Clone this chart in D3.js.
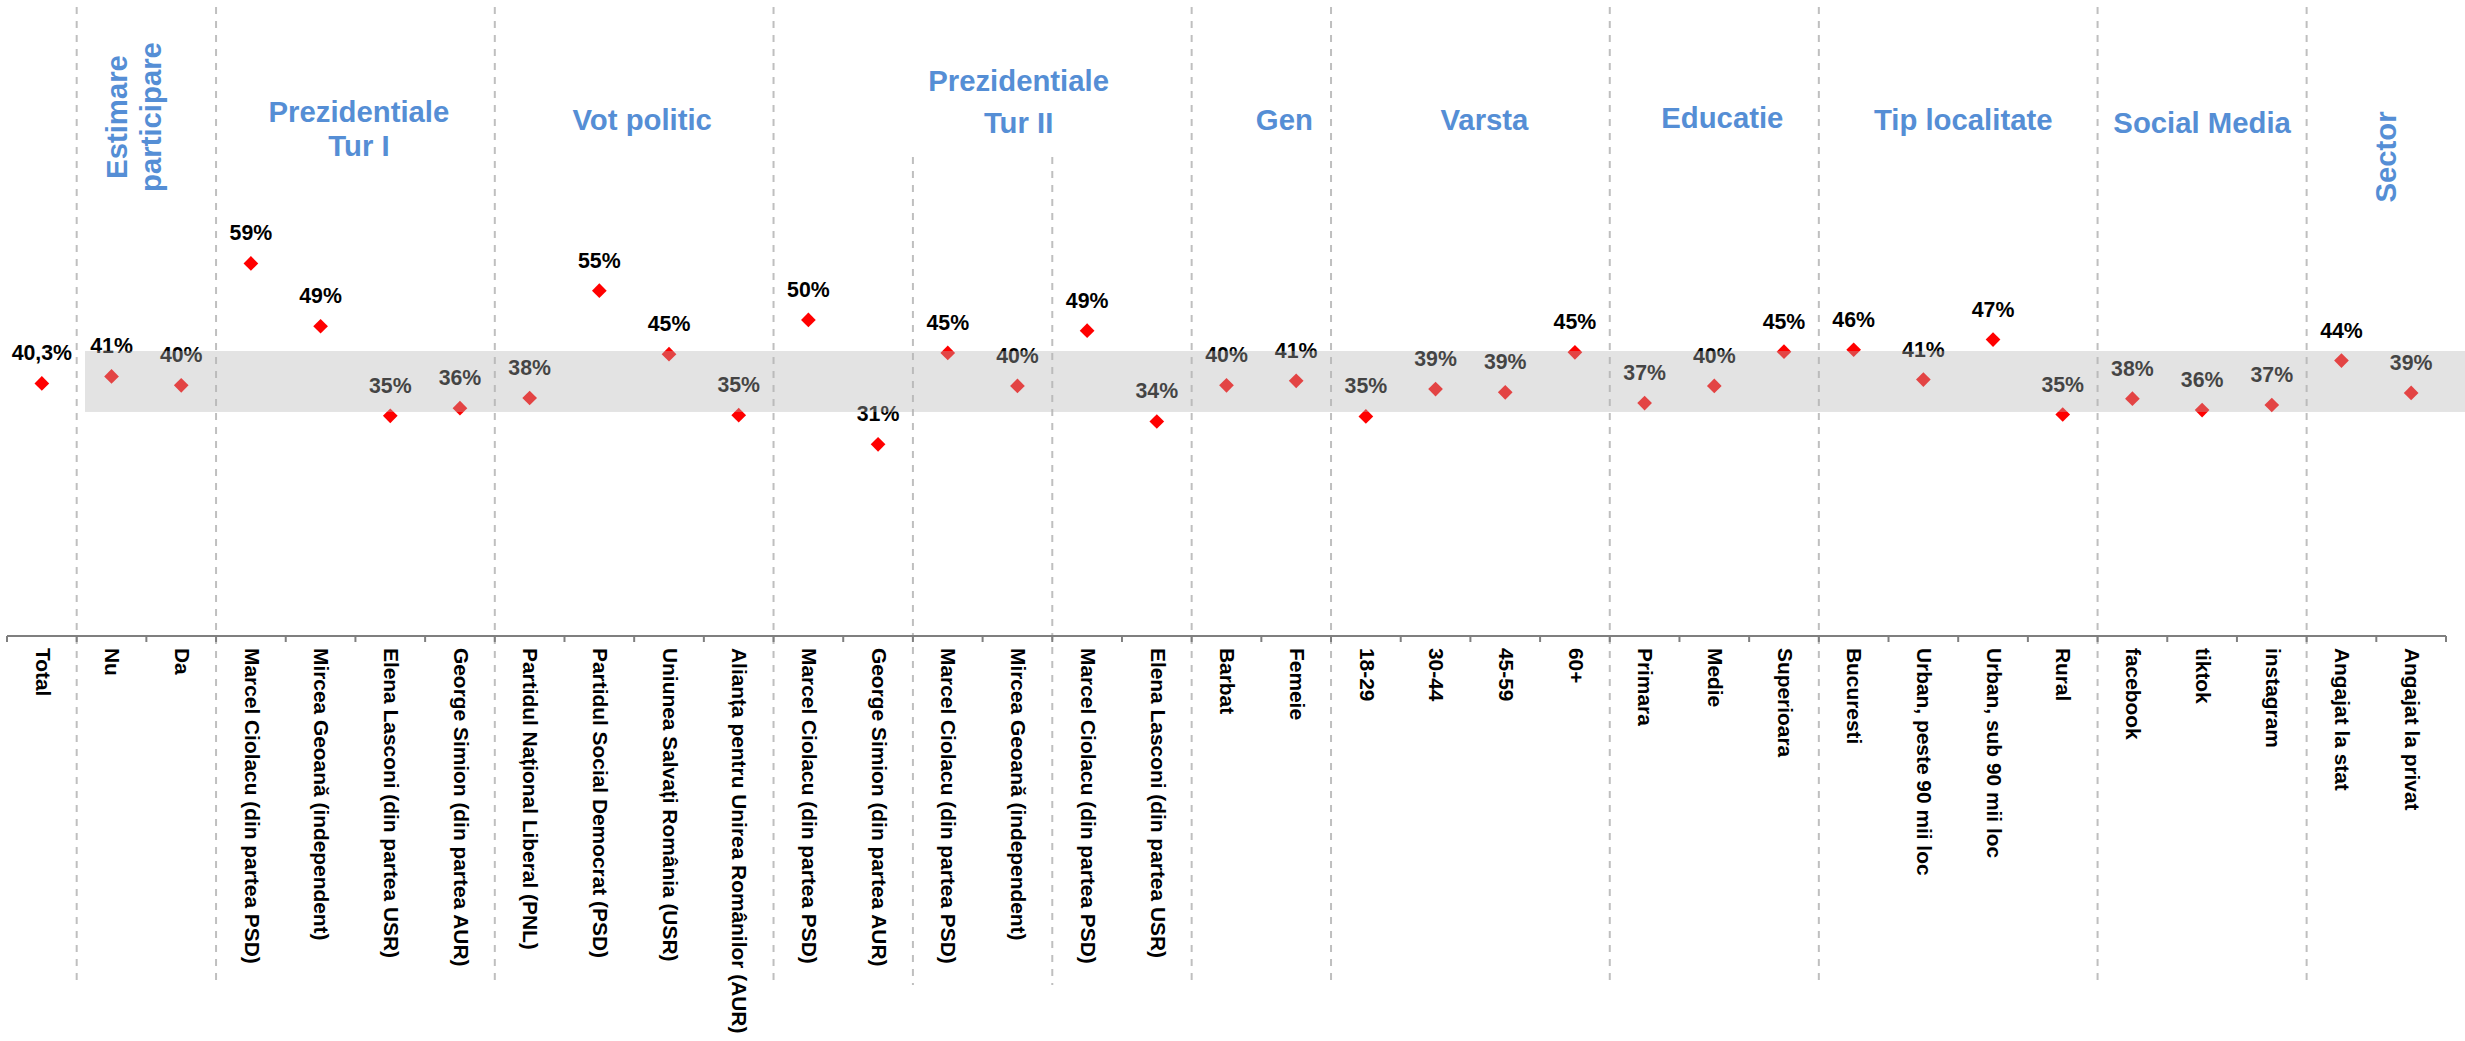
<!DOCTYPE html>
<html>
<head>
<meta charset="utf-8">
<script src="https://cdn.jsdelivr.net/npm/d3@7"></script>
<style>
  html, body { margin: 0; padding: 0; background: #ffffff; }
  svg { display: block; font-family: "Liberation Sans", Arial, sans-serif; }
</style>
</head>
<body>
<svg id="chart" width="2465" height="1041"></svg>
<script>
// ---------------- DATA ----------------
const categories = [
  "Total",
  "Nu", "Da",
  "Marcel Ciolacu (din partea PSD)", "Mircea Geoană (independent)", "Elena Lasconi (din partea USR)", "George Simion (din partea AUR)",
  "Partidul Național Liberal (PNL)", "Partidul Social Democrat (PSD)", "Uniunea Salvați România (USR)", "Alianța pentru Unirea Românilor (AUR)",
  "Marcel Ciolacu (din partea PSD)", "George Simion (din partea AUR)",
  "Marcel Ciolacu (din partea PSD)", "Mircea Geoană (independent)",
  "Marcel Ciolacu (din partea PSD)", "Elena Lasconi (din partea USR)",
  "Barbat", "Femeie",
  "18-29", "30-44", "45-59", "60+",
  "Primara", "Medie", "Superioara",
  "Bucuresti", "Urban, peste 90 mii loc", "Urban, sub 90 mii loc", "Rural",
  "facebook", "tiktok", "instagram",
  "Angajat la stat", "Angajat la privat"
];

const values = [
  40.3,
  41.4, 40.0,
  59.2, 49.3, 35.2, 36.4,
  38.0, 54.9, 44.9, 35.3,
  50.3, 30.7,
  45.1, 39.9,
  48.6, 34.3,
  40.0, 40.7,
  35.1, 39.4, 38.9, 45.2,
  37.2, 39.9, 45.3,
  45.6, 40.9, 47.2, 35.4,
  37.9, 36.1, 36.9,
  43.9, 38.8
];

const valueLabels = [
  "40,3%",
  "41%", "40%",
  "59%", "49%", "35%", "36%",
  "38%", "55%", "45%", "35%",
  "50%", "31%",
  "45%", "40%",
  "49%", "34%",
  "40%", "41%",
  "35%", "39%", "39%", "45%",
  "37%", "40%", "45%",
  "46%", "41%", "47%", "35%",
  "38%", "36%", "37%",
  "44%", "39%"
];

// group titles and how many categories each group spans
const groupTitles = [
  [],
  ["Estimare", "participare"],
  ["Prezidentiale", "Tur I"],
  ["Vot politic"],
  ["Prezidentiale", "Tur II"],
  ["Gen"],
  ["Varsta"],
  ["Educatie"],
  ["Tip localitate"],
  ["Social Media"],
  ["Sector"]
];
const groupSizes = [1, 2, 4, 4, 6, 2, 4, 3, 4, 3, 2];
// sub-pairs inside "Prezidentiale Tur II"
const tur2PairSizes = [2, 2, 2];

// reference band (average range)
const bandLow = 35.8;
const bandHigh = 45.4;

// ---------------- LAYOUT ----------------
const W = 2465, H = 1041;
const svg = d3.select("#chart");
const FONT = "'Liberation Sans', Arial, sans-serif";
const HEADER_COLOR = "#558ED5";

const x = d3.scaleBand().domain(d3.range(categories.length)).range([7, 2446]).paddingInner(0).paddingOuter(0);
const y = d3.scaleLinear().domain([0, 100]).range([639.3, 4.3]);
const axisY = 636;

// header layout (style only)
const headerLayout = [
  null,
  { vertical: true, x: 126.7, y: 117, lh: 34 },
  { dx: 3.5, y: 121.7, lh: 34.8 },
  { dx: 8, y: 129.5, lh: 34 },
  { dx: 36, y: 90.7, lh: 42 },
  { dx: 23, y: 130, lh: 34 },
  { dx: 14, y: 130, lh: 34 },
  { dx: 8, y: 128, lh: 34 },
  { dx: 5, y: 130, lh: 34 },
  { dx: 0, y: 133, lh: 34 },
  { vertical: true, x: 2396, y: 157, lh: 34 }
];

// group boundaries
const starts = [];
let acc = 0;
groupSizes.forEach(s => { starts.push(acc); acc += s; });
const edge = i => (i >= categories.length ? x.range()[1] : x(i));

// ---- dividers (main) ----
const dividerIdx = starts.slice(1);
svg.append("g").selectAll("line.div")
  .data(dividerIdx).join("line")
  .attr("x1", d => edge(d)).attr("x2", d => edge(d))
  .attr("y1", 7).attr("y2", 985)
  .attr("stroke", "#BFBFBF").attr("stroke-width", 2)
  .attr("stroke-dasharray", "7,7");

// ---- sub dividers inside Tur II ----
const tur2Start = starts[4];
const subIdx = [];
let a2 = tur2Start;
tur2PairSizes.slice(0, -1).forEach(s => { a2 += s; subIdx.push(a2); });
svg.append("g").selectAll("line.sub")
  .data(subIdx).join("line")
  .attr("x1", d => edge(d)).attr("x2", d => edge(d))
  .attr("y1", 157).attr("y2", 985)
  .attr("stroke", "#BFBFBF").attr("stroke-width", 2)
  .attr("stroke-dasharray", "7,7");

// ---- headers ----
const hg = svg.append("g");
groupTitles.forEach((lines, gi) => {
  if (!lines.length) return;
  const L = headerLayout[gi];
  const cx = (edge(starts[gi]) + edge(starts[gi] + groupSizes[gi])) / 2;
  let t;
  if (L.vertical) {
    t = hg.append("text")
      .attr("transform", `translate(${L.x},${L.y}) rotate(-90)`);
  } else {
    t = hg.append("text")
      .attr("transform", `translate(${cx + L.dx},${L.y})`);
  }
  t.attr("text-anchor", "middle")
    .attr("font-family", FONT)
    .attr("font-weight", "bold")
    .attr("font-size", "29.3px")
    .attr("fill", HEADER_COLOR);
  lines.forEach((ln, li) => {
    t.append("tspan").attr("x", 0).attr("y", li * L.lh).text(ln);
  });
});

// ---- x axis ----
const ag = svg.append("g");
ag.append("line")
  .attr("x1", x.range()[0]).attr("x2", x.range()[1])
  .attr("y1", axisY).attr("y2", axisY)
  .attr("stroke", "#7F7F7F").attr("stroke-width", 2);
ag.selectAll("line.tick")
  .data(d3.range(categories.length + 1)).join("line")
  .attr("x1", d => edge(d)).attr("x2", d => edge(d))
  .attr("y1", axisY).attr("y2", axisY + 6)
  .attr("stroke", "#7F7F7F").attr("stroke-width", 2);
ag.selectAll("text.cat")
  .data(categories).join("text")
  .attr("transform", (d, i) => `translate(${x(i) + x.bandwidth() / 2},648) rotate(90)`)
  .attr("dy", "0.3em")
  .attr("text-anchor", "start")
  .attr("font-family", FONT)
  .attr("font-weight", "bold")
  .attr("font-size", "20.9px")
  .attr("fill", "#000")
  .text(d => d);

// ---- points ----
const pg = svg.append("g");
const diamond = d3.symbol().type(d3.symbolSquare).size(108);
pg.selectAll("path.pt")
  .data(values).join("path")
  .attr("d", diamond)
  .attr("transform", (d, i) => `translate(${x(i) + x.bandwidth() / 2},${y(d)}) rotate(45)`)
  .attr("fill", "#FF0000");

pg.selectAll("text.lbl")
  .data(values).join("text")
  .attr("x", (d, i) => x(i) + x.bandwidth() / 2)
  .attr("y", d => y(d) - 23)
  .attr("text-anchor", "middle")
  .attr("font-family", FONT)
  .attr("font-weight", "bold")
  .attr("font-size", "21.3px")
  .attr("fill", "#000")
  .text((d, i) => valueLabels[i]);

// ---- translucent average band (drawn on top) ----
svg.append("rect")
  .attr("x", 85).attr("width", W - 85)
  .attr("y", y(bandHigh)).attr("height", y(bandLow) - y(bandHigh))
  .attr("fill", "rgb(181,181,181)")
  .attr("fill-opacity", 0.376);
</script>
</body>
</html>
